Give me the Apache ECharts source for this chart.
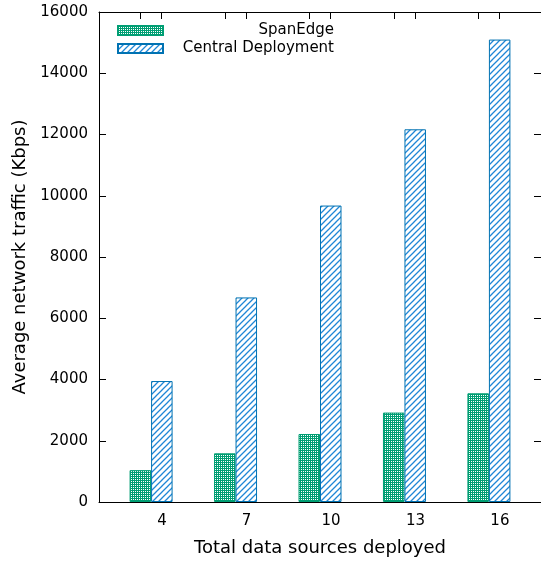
<!DOCTYPE html>
<html>
<head>
<meta charset="utf-8">
<script src="https://cdn.jsdelivr.net/npm/echarts@6/dist/echarts.min.js"></script>
<style>
html,body{margin:0;padding:0;background:#fff;}
#chart{width:541px;height:563px;}
</style>
</head>
<body>
<div id="chart"></div>
<script>
// ---- data ----
var categories = [4, 7, 10, 13, 16];
var seriesNames = ['SpanEdge', 'Central Deployment'];
var spanEdge = [1040, 1590, 2220, 2920, 3550];
var central = [3950, 6680, 9680, 12170, 15100];
var yTicks = [0, 2000, 4000, 6000, 8000, 10000, 12000, 14000, 16000];
var xTitle = 'Total data sources deployed';
var yTitle = 'Average network traffic (Kbps)';

var GREEN = '#009e73';
var BLUE = '#0072b2';
var HATCH_BLUE = '#1f86d6';
var FONT = 'DejaVu Sans';

function crossPattern(color) {
  var c = document.createElement('canvas');
  c.width = 4; c.height = 4;
  var ctx = c.getContext('2d');
  ctx.fillStyle = color;
  ctx.fillRect(0, 0, 4, 4);
  ctx.fillStyle = '#ffffff';
  ctx.fillRect(1, 1, 1, 1);
  ctx.fillRect(3, 3, 1, 1);
  ctx.fillRect(1, 3, 1, 1);
  ctx.fillRect(3, 1, 1, 1);
  return {image: c, repeat: 'repeat'};
}
function diagPattern(color) {
  var s = 6;
  var c = document.createElement('canvas');
  c.width = s; c.height = s;
  var ctx = c.getContext('2d');
  ctx.fillStyle = '#ffffff';
  ctx.fillRect(0, 0, s, s);
  ctx.strokeStyle = color;
  ctx.lineWidth = 1.3;
  ctx.beginPath();
  for (var k = -1; k <= 1; k++) {
    ctx.moveTo(k * s - 1, s + 1);
    ctx.lineTo(k * s + s + 1, -1);
  }
  ctx.stroke();
  return {image: c, repeat: 'repeat'};
}

var xMin = 2.15, xMax = 17.85;
var halfBar = 0.37;
var topTicks = [];
categories.forEach(function (c) { topTicks.push(c - halfBar, c + halfBar); });

var chart = echarts.init(document.getElementById('chart'), null, {renderer: 'canvas'});
chart.setOption({
  animation: false,
  backgroundColor: '#ffffff',
  textStyle: {fontFamily: FONT},
  grid: {left: 99, top: 12, width: 445, height: 490, containLabel: false},
  legend: {
    orient: 'vertical',
    left: 117, top: 23,
    padding: 0,
    icon: 'rect',
    itemWidth: 45, itemHeight: 9,
    itemGap: 3,
    data: seriesNames,
    formatter: function (n) { return '{r|' + n + '}'; },
    textStyle: {
      fontFamily: FONT, fontSize: 15, color: '#000',
      rich: {r: {width: 166, align: 'right', fontSize: 15, fontFamily: FONT, color: '#000', lineHeight: 16}}
    }
  },
  xAxis: [{
    type: 'value', position: 'bottom', min: xMin, max: xMax,
    name: xTitle, nameLocation: 'middle', nameGap: 37,
    nameTextStyle: {fontSize: 18, color: '#000', fontFamily: FONT},
    axisLine: {show: true, onZero: false, lineStyle: {color: '#000', width: 1}},
    axisTick: {show: false},
    splitLine: {show: false},
    axisLabel: {
      customValues: categories, fontSize: 15, color: '#000', margin: 12,
      padding: [0, 0, 0, 22], fontFamily: FONT,
      formatter: function (v) { return String(v); }
    }
  }, {
    type: 'value', position: 'top', min: xMin, max: xMax,
    axisLine: {show: true, onZero: false, lineStyle: {color: '#000', width: 1}},
    axisTick: {show: true, inside: true, length: 7, customValues: topTicks, lineStyle: {color: '#000'}},
    axisLabel: {show: false},
    splitLine: {show: false}
  }],
  yAxis: [{
    type: 'value', position: 'left', min: 0, max: 16000, interval: 2000,
    name: yTitle, nameLocation: 'middle', nameGap: 60,
    nameTextStyle: {fontSize: 18, color: '#000', fontFamily: FONT},
    axisLine: {show: true, onZero: false, lineStyle: {color: '#000', width: 1}},
    axisTick: {show: true, inside: true, length: 7, lineStyle: {color: '#000'}},
    axisLabel: {
      customValues: yTicks, fontSize: 15, color: '#000', margin: 11, fontFamily: FONT,
      formatter: function (v) { return String(v); }
    },
    splitLine: {show: false}
  }, {
    type: 'value', position: 'right', min: 0, max: 16000, interval: 2000,
    axisLine: {show: true, onZero: false, lineStyle: {color: '#000', width: 1}},
    axisTick: {show: true, inside: true, length: 7, lineStyle: {color: '#000'}},
    axisLabel: {show: false},
    splitLine: {show: false}
  }],
  series: [{
    name: seriesNames[0], type: 'bar', xAxisIndex: 0, yAxisIndex: 0,
    barWidth: 21.5, barGap: '0%',
    itemStyle: {color: crossPattern(GREEN), borderColor: GREEN, borderWidth: 1},
    data: categories.map(function (c, i) { return [c, spanEdge[i]]; })
  }, {
    name: seriesNames[1], type: 'bar', xAxisIndex: 0, yAxisIndex: 0,
    barWidth: 21.5, barGap: '0%',
    itemStyle: {color: diagPattern(HATCH_BLUE), borderColor: BLUE, borderWidth: 1},
    data: categories.map(function (c, i) { return [c, central[i]]; })
  }]
});
</script>
</body>
</html>
